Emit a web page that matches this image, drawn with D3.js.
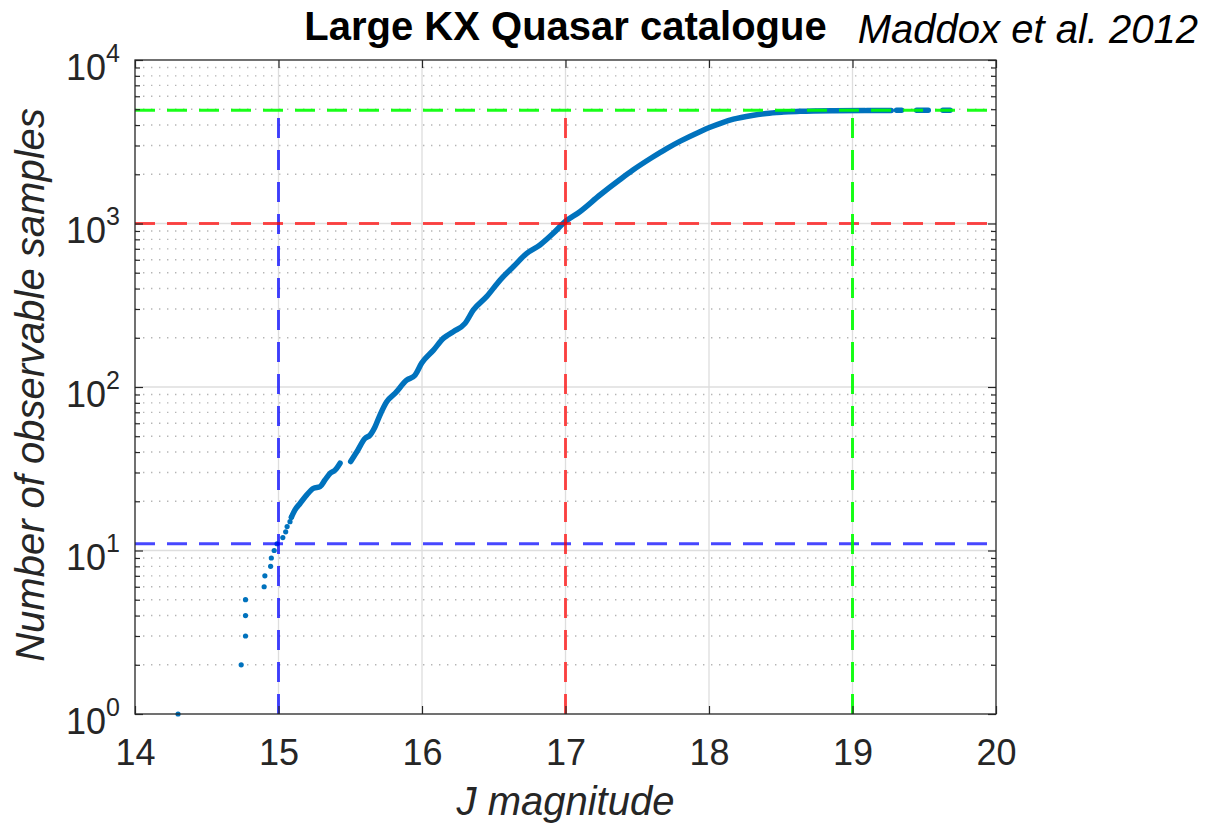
<!DOCTYPE html>
<html>
<head>
<meta charset="utf-8">
<script src="https://cdn.jsdelivr.net/npm/d3@7"></script>
<style>
  body { margin: 0; background: #fff; }
  svg { display: block; font-family: "Liberation Sans", Arial, Helvetica, sans-serif; }
  .axis path { display: none; }
  .axis line { stroke: #262626; stroke-width: 1.2; }
  .axis text { fill: #262626; font-size: 36px; }
</style>
</head>
<body>
<div id="chart"></div>
<script>
// isolated points at the faint end (J magnitude, cumulative count)
const sparseMag   = [14.30, 14.74, 14.77, 14.77, 14.77, 14.90, 14.905, 14.945, 14.95, 14.97, 14.99, 15.03, 15.05, 15.06, 15.08, 15.09];
const sparseCount = [1, 2, 3, 4, 5, 6, 7, 8, 9, 10, 11, 12, 13, 14, 15, 16];

// dense part of the curve, null marks a gap in the samples
const curveMag = [15.09, 15.115, 15.15, 15.197, 15.243, 15.29, 15.324, 15.36, 15.394, 15.429, null,
  15.503, 15.545, 15.603, 15.638, 15.673, 15.707, 15.754, 15.812, 15.893, 15.951, 15.998,
  16.08, 16.15, 16.218, 16.30, 16.358, 16.45, 16.544, 16.636, 16.73, 16.822, 16.915, 16.997,
  17.10, 17.24, 17.38, 17.47, 17.60, 17.705, 17.80, 17.937, 18.007, 18.09, 18.17, 18.30, 18.40, 18.52, 18.634, 18.87, 19.087, null,
  19.10, 19.27, null, 19.307, 19.342, null, 19.447, 19.528, null, 19.63, 19.68];
const curveCount = [16, 17.7, 19.4, 21.9, 24, 24.6, 27, 29.7, 31, 34.2, null,
  35, 40, 48.5, 50.8, 57.2, 67.4, 81.3, 91.4, 110, 118, 140,
  168, 199, 218, 245, 296, 357, 451, 544, 657, 739, 871, 1026,
  1181, 1494, 1858, 2123, 2523, 2871, 3190, 3645, 3878, 4130, 4345, 4581, 4710, 4800, 4860, 4900, 4910, null,
  4912, 4918, null, 4920, 4921, null, 4925, 4927, null, 4930, 4932];

// reference levels
const refMag   = [15, 17, 19];
const refCount = [11, 1000, 4930];
const refColor = ["rgba(0,0,255,0.72)", "rgba(255,0,0,0.7)", "rgba(0,255,0,0.9)"];

const xTicks = [14, 15, 16, 17, 18, 19, 20];
const yDecades = [1, 10, 100, 1000, 10000];

const width = 1205, height = 828;
const plotLeft = 135, plotRight = 996, plotTop = 60, plotBottom = 714;

const svg = d3.select("#chart").append("svg")
    .attr("width", width)
    .attr("height", height);

const x = d3.scaleLinear().domain([14, 20]).range([plotLeft, plotRight]);
const y = d3.scaleLog().domain([1, 1e4]).range([plotBottom, plotTop]);

// all log ticks (1..9 per decade)
const yAll = [];
yDecades.slice(0, -1).forEach(d => { for (let k = 1; k < 10; k++) yAll.push(d * k); });
yAll.push(10000);
const isDecade = v => yDecades.includes(v);

// --- grid ---
const grid = svg.append("g");
grid.selectAll(".minor").data(yAll.filter(v => !isDecade(v)))
  .enter().append("line")
    .attr("x1", plotLeft).attr("x2", plotRight)
    .attr("y1", d => y(d)).attr("y2", d => y(d))
    .attr("stroke", "#b5b5b5")
    .attr("stroke-width", 1.4)
    .attr("stroke-dasharray", "1.4,6.6");
grid.selectAll(".majorY").data(yDecades.slice(1, -1))
  .enter().append("line")
    .attr("x1", plotLeft).attr("x2", plotRight)
    .attr("y1", d => y(d)).attr("y2", d => y(d))
    .attr("stroke", "#dedede").attr("stroke-width", 1.3);
grid.selectAll(".majorX").data(xTicks.slice(1, -1))
  .enter().append("line")
    .attr("y1", plotTop).attr("y2", plotBottom)
    .attr("x1", d => x(d)).attr("x2", d => x(d))
    .attr("stroke", "#dedede").attr("stroke-width", 1.3);

// --- data ---
const blue = "#0072BD";
const curve = curveMag.map((m, i) => [m, curveCount[i]]);
svg.append("path")
    .datum(curve)
    .attr("fill", "none")
    .attr("stroke", blue)
    .attr("stroke-width", 5.5)
    .attr("stroke-linecap", "round")
    .attr("stroke-linejoin", "round")
    .attr("d", d3.line().defined(d => d[0] != null && d[1] != null)
        .curve(d3.curveMonotoneX)
        .x(d => x(d[0])).y(d => y(d[1])));

svg.append("g").selectAll("circle")
    .data(sparseMag.map((m, i) => [m, sparseCount[i]]))
  .enter().append("circle")
    .attr("cx", d => x(d[0]))
    .attr("cy", d => y(d[1]))
    .attr("r", 2.6)
    .attr("fill", blue);

// --- dashed reference lines ---
const refs = svg.append("g")
    .attr("fill", "none")
    .attr("stroke-width", 3)
    .attr("stroke-dasharray", "20,12");
refMag.forEach((m, i) => {
  refs.append("line")
      .attr("x1", x(14)).attr("x2", x(20))
      .attr("y1", y(refCount[i])).attr("y2", y(refCount[i]))
      .attr("stroke", refColor[i]);
  refs.append("line")
      .attr("x1", x(m)).attr("x2", x(m))
      .attr("y1", y(1)).attr("y2", y(refCount[2]))
      .attr("stroke", refColor[i]);
});

// --- axes (ticks point inward) ---
const xBottom = svg.append("g").attr("class", "axis")
    .attr("transform", `translate(0,${plotBottom})`)
    .call(d3.axisBottom(x).tickValues(xTicks).tickSize(-8).tickPadding(12).tickFormat(d3.format("d")));
xBottom.selectAll("text").attr("dy", null).attr("y", 51);

svg.append("g").attr("class", "axis")
    .attr("transform", `translate(0,${plotTop})`)
    .call(d3.axisTop(x).tickValues(xTicks).tickSize(-8).tickFormat(""));

const yLeft = svg.append("g").attr("class", "axis")
    .attr("transform", `translate(${plotLeft},0)`)
    .call(d3.axisLeft(y).tickValues(yAll).tickSize(-8).tickFormat(d => isDecade(d) ? d : ""));
yLeft.selectAll(".tick line").attr("x2", d => isDecade(d) ? 8 : 5);
yLeft.selectAll(".tick text").each(function(d) {
  const t = d3.select(this).text(null).attr("dy", null).attr("x", -15).attr("y", 19);
  if (!isDecade(d)) return;
  t.append("tspan").text("10");
  t.append("tspan").attr("dy", -18).style("font-size", "25px").text(Math.round(Math.log10(d)));
});

const yRight = svg.append("g").attr("class", "axis")
    .attr("transform", `translate(${plotRight},0)`)
    .call(d3.axisRight(y).tickValues(yAll).tickSize(-8).tickFormat(""));
yRight.selectAll(".tick line").attr("x2", d => isDecade(d) ? -8 : -5);

// box
svg.append("rect")
    .attr("x", plotLeft).attr("y", plotTop)
    .attr("width", plotRight - plotLeft).attr("height", plotBottom - plotTop)
    .attr("fill", "none")
    .attr("stroke", "#262626")
    .attr("stroke-width", 1.3);

// --- labels ---
svg.append("text")
    .attr("x", (plotLeft + plotRight) / 2)
    .attr("y", 40)
    .attr("text-anchor", "middle")
    .style("font-size", "40px")
    .style("font-weight", "bold")
    .attr("fill", "#000")
    .text("Large KX Quasar catalogue");

svg.append("text")
    .attr("x", 1198)
    .attr("y", 43)
    .attr("text-anchor", "end")
    .style("font-size", "40px")
    .style("font-style", "italic")
    .attr("fill", "#000")
    .text("Maddox et al. 2012");

svg.append("text")
    .attr("x", (plotLeft + plotRight) / 2)
    .attr("y", 815)
    .attr("text-anchor", "middle")
    .style("font-size", "40px")
    .style("font-style", "italic")
    .attr("fill", "#262626")
    .text("J magnitude");

svg.append("text")
    .attr("transform", `translate(44,${(plotTop + plotBottom) / 2 - 2}) rotate(-90)`)
    .attr("text-anchor", "middle")
    .style("font-size", "40px")
    .style("font-style", "italic")
    .attr("fill", "#262626")
    .text("Number of observable samples");
</script>
</body>
</html>
